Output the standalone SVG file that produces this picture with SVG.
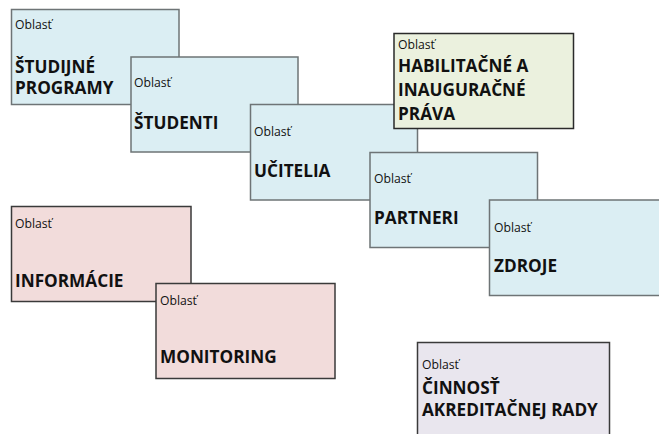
<svg xmlns="http://www.w3.org/2000/svg" width="659" height="434" viewBox="0 0 659 434">
<style>
rect{stroke-width:1.5}
.b{fill:#DBEEF3;stroke:#6E7476}
.p{fill:#F2DCDB;stroke:#3A3A3A}
.g{fill:#EBF1DE;stroke:#2A2A2A}
.l{fill:#E9E6EE;stroke:#3A3A3A}
.s{font-family:"Open Sans","Liberation Sans",sans-serif;font-size:12.2px;fill:#111}
.t{font-family:"Open Sans","Liberation Sans",sans-serif;font-size:17.2px;font-weight:bold;fill:#111}
</style>
<rect width="659" height="434" fill="#fff"/>
<g id="n-studijne">
<rect class="b" x="11.5" y="9.5" width="167.5" height="95"/>
<text class="s" x="15" y="29">Oblasť</text>
<text class="t" x="15" y="73">ŠTUDIJNÉ</text>
<text class="t" x="15" y="94">PROGRAMY</text>
</g>
<g id="n-studenti">
<rect class="b" x="131" y="57" width="167" height="95"/>
<text class="s" x="134" y="87">Oblasť</text>
<text class="t" x="134" y="129">ŠTUDENTI</text>
</g>
<g id="n-ucitelia">
<rect class="b" x="250.5" y="104.5" width="167" height="95.5"/>
<text class="s" x="254" y="136">Oblasť</text>
<text class="t" x="254" y="177">UČITELIA</text>
</g>
<g id="n-habilitacne">
<rect class="g" x="394" y="33.5" width="179.5" height="95"/>
<text class="s" x="398" y="49">Oblasť</text>
<text class="t" x="398" y="71.5">HABILITAČNÉ A</text>
<text class="t" x="398" y="96">INAUGURAČNÉ</text>
<text class="t" x="398" y="120">PRÁVA</text>
</g>
<g id="n-partneri">
<rect class="b" x="370" y="152.5" width="167.5" height="95"/>
<text class="s" x="374" y="183">Oblasť</text>
<text class="t" x="374" y="224">PARTNERI</text>
</g>
<g id="n-zdroje">
<rect class="b" x="489.5" y="200" width="175" height="95.5"/>
<text class="s" x="494" y="231.5">Oblasť</text>
<text class="t" x="494" y="271.5">ZDROJE</text>
</g>
<g id="n-informacie">
<rect class="p" x="11.5" y="206.5" width="179.5" height="95"/>
<text class="s" x="15" y="228">Oblasť</text>
<text class="t" x="15" y="287">INFORMÁCIE</text>
</g>
<g id="n-monitoring">
<rect class="p" x="156" y="283.5" width="179" height="95"/>
<text class="s" x="160" y="305">Oblasť</text>
<text class="t" x="160" y="363">MONITORING</text>
</g>
<g id="n-cinnost">
<rect class="l" x="417.5" y="342.5" width="192" height="100"/>
<text class="s" x="422" y="369">Oblasť</text>
<text class="t" x="422" y="394">ČINNOSŤ</text>
<text class="t" x="422" y="416">AKREDITAČNEJ RADY</text>
</g>
<g id="connectors"/>
</svg>
